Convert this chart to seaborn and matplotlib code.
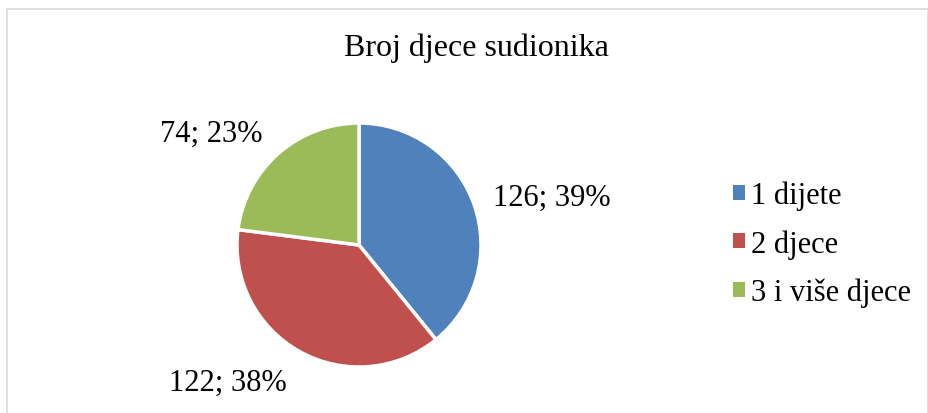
import matplotlib
matplotlib.use("Agg")
import matplotlib.pyplot as plt
import matplotlib.patches as mpatches
import seaborn as sns

# data
categories = ["1 dijete", "2 djece", "3 i više djece"]
counts = [126, 122, 74]
colors = ["#4F81BD", "#C0504D", "#9BBB59"]
title = "Broj djece sudionika"

sns.set_theme(style="white")
plt.rcParams["font.family"] = ["Liberation Serif", "DejaVu Serif"]
plt.rcParams["text.color"] = "black"

W, H = 929, 414
fig = plt.figure(figsize=(W / 100, H / 100), dpi=100)

# light grey chart-area border (cut off at right/bottom like the screenshot)
fig.patches.append(mpatches.Rectangle((7 / W, -0.2), (928 - 7) / W, 1 - 10 / H + 0.2,
                                      transform=fig.transFigure, fill=False,
                                      edgecolor="#d9d9d9", lw=1.2))

# pie centred at (359, 246) px, radius 122 px
cx, cy, r = 359, 246, 122
ax = fig.add_axes([(cx - r) / W, (H - cy - r) / H, 2 * r / W, 2 * r / H])

total = sum(counts)
labels = [f"{c}; {round(c / total * 100)}%" for c in counts]

wedges, texts = ax.pie(counts, colors=colors, startangle=90, counterclock=False,
                       labels=labels, labeldistance=1.17,
                       wedgeprops=dict(edgecolor="white", linewidth=2.5),
                       textprops=dict(fontsize=22, color="black"))
# Excel pushes the outside labels a little further out
x1, y1 = texts[1].get_position()
texts[1].set_position((x1 - 0.02, y1 - 0.1))
x2, y2 = texts[2].get_position()
texts[2].set_position((x2 - 0.02, y2 + 0.04))
ax.set_xlim(-1, 1)
ax.set_ylim(-1, 1)
ax.set_aspect("equal")
ax.axis("off")

fig.text(476 / W, 1 - 48 / H, title, ha="center", va="center", fontsize=23, color="black")

handles = [mpatches.Patch(facecolor=c, edgecolor="none") for c in colors]
fig.legend(handles, categories, loc="center left",
           bbox_to_anchor=(733 / W, 1 - 245 / H), frameon=False,
           fontsize=22, handlelength=0.38, handleheight=0.38,
           handletextpad=0.22, labelspacing=0.62, borderpad=0, borderaxespad=0,
           labelcolor="black")

fig.savefig("out.png", dpi=100)
